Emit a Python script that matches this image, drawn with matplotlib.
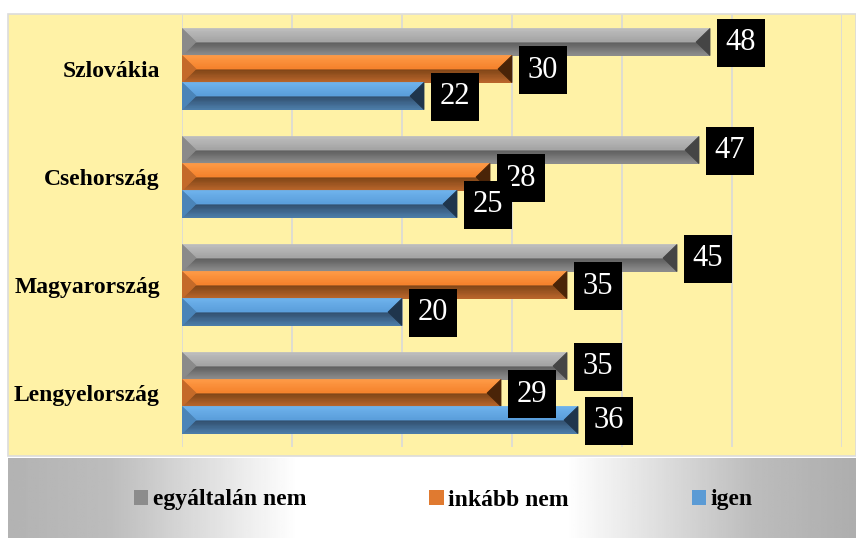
import numpy as np
import matplotlib.pyplot as plt
from matplotlib.patches import Polygon, Rectangle, Patch
from matplotlib.colors import to_rgb
from matplotlib.font_manager import FontProperties

categories = ["Szlovákia", "Csehország", "Magyarország", "Lengyelország"]
series_names = ["egyáltalán nem", "inkább nem", "igen"]
egyaltalan_nem = [48, 47, 45, 35]
inkabb_nem = [30, 28, 35, 29]
igen = [22, 25, 20, 36]
x_ticks = [0, 10, 20, 30, 40, 50, 60]

# colours for the bevel faces: top edge/middle, bottom middle/edge, left, right
palettes = [
    dict(top=("#c0c0c0", "#a4a4a4"), bot=("#5a5a5a", "#8e8e8e"), left="#8a8a8a", right="#454545", legend="#8c8c8c"),
    dict(top=("#ff9c48", "#f5822c"), bot=("#7a4216", "#b9662b"), left="#c46a29", right="#4a2408", legend="#e07a30"),
    dict(top=("#70b4ee", "#5a9edb"), bot=("#2e4a68", "#4d7ca8"), left="#4a84b8", right="#1f354c", legend="#5b9bd5"),
]

serif = "Liberation Serif"


def mix(c1, c2, t):
    a = np.array(to_rgb(c1))
    b = np.array(to_rgb(c2))
    return tuple(a + (b - a) * t)


def face(ax, pts, col):
    ax.add_patch(Polygon(pts, closed=True, fc=col, ec=col, lw=0.6, zorder=3))


def bevel_bar(ax, y, value, height, pal, depth=1.27, steps=10):
    top = y - height / 2
    bot = y + height / 2
    for i in range(steps):
        t0, t1 = i / steps, (i + 1) / steps
        y0 = top + (y - top) * t0
        y1 = top + (y - top) * t1
        face(ax, [(depth * t0, y0), (value - depth * t0, y0),
                  (value - depth * t1, y1), (depth * t1, y1)],
             mix(*pal["top"], (t0 + t1) / 2))
        y0 = y + (bot - y) * t0
        y1 = y + (bot - y) * t1
        face(ax, [(depth * (1 - t0), y0), (value - depth * (1 - t0), y0),
                  (value - depth * (1 - t1), y1), (depth * (1 - t1), y1)],
             mix(*pal["bot"], (t0 + t1) / 2))
    face(ax, [(0, top), (depth, y), (0, bot)], pal["left"])
    face(ax, [(value, top), (value - depth, y), (value, bot)], pal["right"])


fig = plt.figure(figsize=(8.56, 5.38), dpi=100)
fig.patch.set_facecolor("white")

# yellow chart panel
fig.patches.append(Rectangle((8 / 856, 1 - 456 / 538), 848 / 856, 442 / 538,
                             transform=fig.transFigure, fc="#fff2a6", ec="#dcdcdc", lw=1.2, zorder=0))

# grey gradient legend band
lax = fig.add_axes([8 / 856, 0, 848 / 856, 80 / 538], zorder=0)
xs = np.linspace(0, 1, 400)
prof = np.interp(xs, [0, 0.12, 0.34, 0.66, 0.88, 1], [0.70, 0.74, 1.0, 1.0, 0.74, 0.68])
grad = np.tile(prof, (2, 1))
lax.imshow(grad, cmap="gray", vmin=0, vmax=1, aspect="auto", extent=[0, 1, 0, 1])
lax.set_axis_off()

ax = fig.add_axes([182 / 856, 1 - 447 / 538, 660 / 856, 432 / 538], zorder=1)
ax.set_facecolor("none")

pos = np.arange(len(categories))
h = 0.25
all_series = [egyaltalan_nem, inkabb_nem, igen]
offsets = [-h, 0, h]

for vals, off, pal in zip(all_series, offsets, palettes):
    ys = pos + off
    ax.barh(ys, vals, height=h, color=pal["legend"], zorder=2)
    for yy, v in zip(ys, vals):
        bevel_bar(ax, yy, v, h, pal)
        ax.annotate(str(v), xy=(v, yy), xytext=(31, -1), textcoords="offset pixels",
                    ha="center", va="center", fontsize=22, family=serif, color="white", zorder=5,
                    bbox=dict(boxstyle="square,pad=0.3", fc="black", ec="none"))

ax.set_xlim(0, 60)
ax.set_ylim(len(categories) - 0.5, -0.5)
ax.set_xticks(x_ticks)
ax.set_xticklabels([])
ax.xaxis.grid(True, color="#d9d9d9", lw=1.2, zorder=1)
ax.set_axisbelow(True)
ax.set_yticks(pos)
ax.set_yticklabels(categories, fontsize=17, fontweight="bold", family=serif)
ax.tick_params(axis="both", length=0)
ax.tick_params(axis="y", pad=16)
for s in ax.spines.values():
    s.set_visible(False)

handles = [Patch(fc=pal["legend"], ec="none") for pal in palettes]
legend_font = FontProperties(family=serif, weight="bold", size=17)
fig.legend(handles, series_names, loc="center", bbox_to_anchor=(0.518, 1 - 500 / 538), ncol=3,
           frameon=False, prop=legend_font,
           handlelength=0.6, handleheight=0.6, handletextpad=0.2, columnspacing=5.2)

fig.savefig("out.png", dpi=100)
